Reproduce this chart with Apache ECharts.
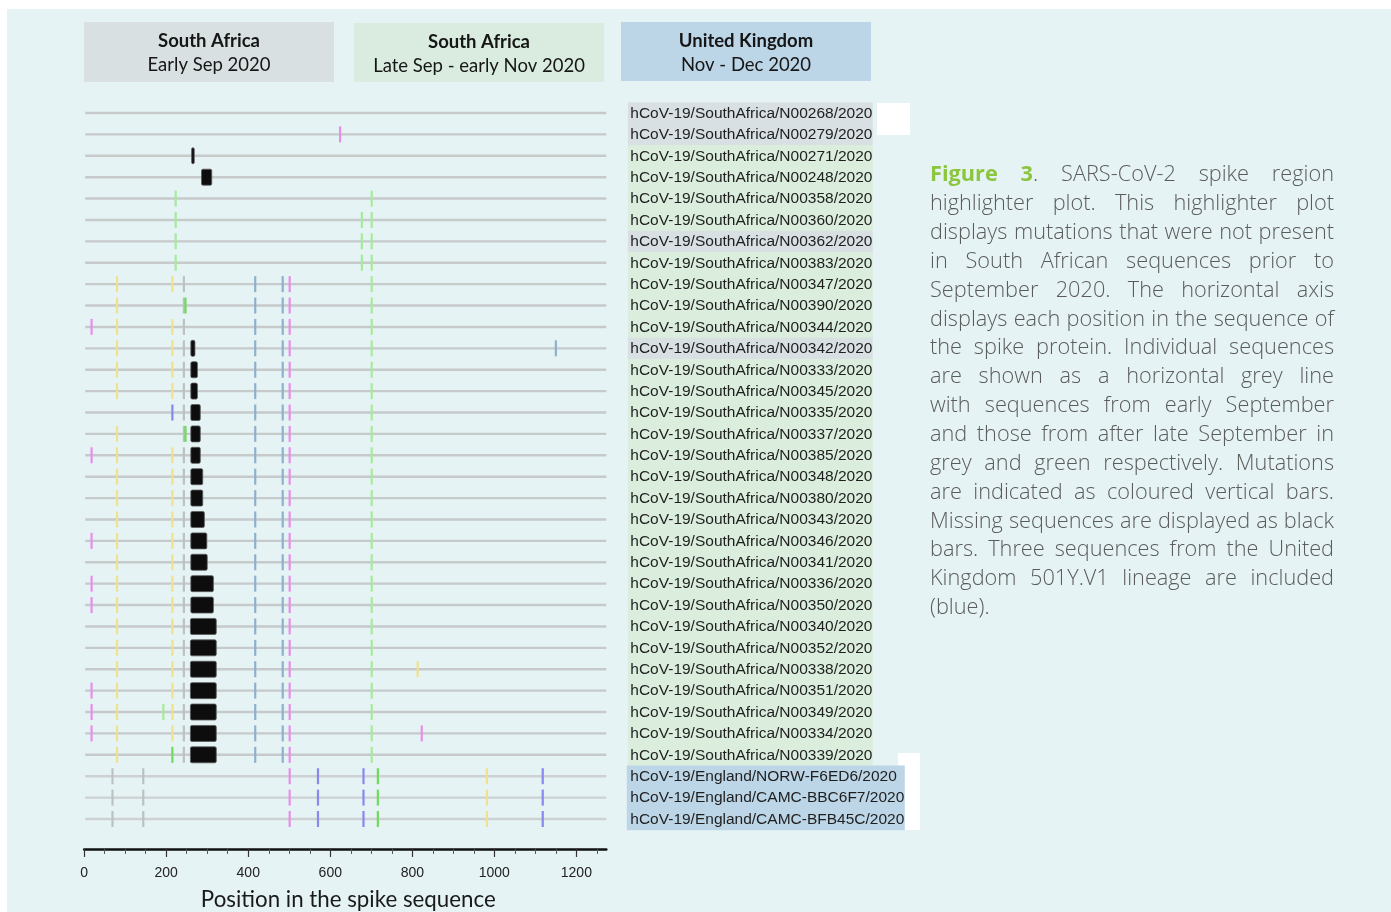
<!DOCTYPE html>
<html><head><meta charset="utf-8">
<script src="https://cdn.jsdelivr.net/npm/echarts@6/dist/echarts.min.js"></script>
<style>html,body{margin:0;padding:0;background:#fff}#c{width:1391px;height:912px}</style>
</head><body><div id="c"></div>
<script>
// ---------------- DATA ----------------
const seqLabels = [
  'hCoV-19/SouthAfrica/N00268/2020','hCoV-19/SouthAfrica/N00279/2020','hCoV-19/SouthAfrica/N00271/2020',
  'hCoV-19/SouthAfrica/N00248/2020','hCoV-19/SouthAfrica/N00358/2020','hCoV-19/SouthAfrica/N00360/2020',
  'hCoV-19/SouthAfrica/N00362/2020','hCoV-19/SouthAfrica/N00383/2020','hCoV-19/SouthAfrica/N00347/2020',
  'hCoV-19/SouthAfrica/N00390/2020','hCoV-19/SouthAfrica/N00344/2020','hCoV-19/SouthAfrica/N00342/2020',
  'hCoV-19/SouthAfrica/N00333/2020','hCoV-19/SouthAfrica/N00345/2020','hCoV-19/SouthAfrica/N00335/2020',
  'hCoV-19/SouthAfrica/N00337/2020','hCoV-19/SouthAfrica/N00385/2020','hCoV-19/SouthAfrica/N00348/2020',
  'hCoV-19/SouthAfrica/N00380/2020','hCoV-19/SouthAfrica/N00343/2020','hCoV-19/SouthAfrica/N00346/2020',
  'hCoV-19/SouthAfrica/N00341/2020','hCoV-19/SouthAfrica/N00336/2020','hCoV-19/SouthAfrica/N00350/2020',
  'hCoV-19/SouthAfrica/N00340/2020','hCoV-19/SouthAfrica/N00352/2020','hCoV-19/SouthAfrica/N00338/2020',
  'hCoV-19/SouthAfrica/N00351/2020','hCoV-19/SouthAfrica/N00349/2020','hCoV-19/SouthAfrica/N00334/2020',
  'hCoV-19/SouthAfrica/N00339/2020','hCoV-19/England/NORW-F6ED6/2020','hCoV-19/England/CAMC-BBC6F7/2020',
  'hCoV-19/England/CAMC-BFB45C/2020'
];
const seqGroups = ['early','early','late','late','late','late','early','late','late','late','late','early',
  'late','late','late','late','late','late','late','late','late','late','late','late','late','late','late',
  'late','late','late','late','uk','uk','uk'];

const headerTitles = ['South Africa','South Africa','United Kingdom'];
const headerSubs = ['Early Sep 2020','Late Sep - early Nov 2020','Nov - Dec 2020'];

const spikeLength = 1273;
const majorTicks = [0,200,400,600,800,1000,1200];
const minorTicks = [50,100,150,250,300,350,450,500,550,650,700,750,850,900,950,1050,1100,1150,1250];

// mutations: [position, [row indices]]
const mutPink = [
  [624,[1]],
  [18,[10,16,20,22,23,27,28,29]],
  [501,[8,9,10,11,12,13,14,15,16,17,18,19,20,21,22,23,24,25,26,27,28,29,30,31,32,33]],
  [823,[29]]
];
const mutYellow = [
  [80,[8,9,10,11,12,13,15,16,17,18,19,20,21,22,23,24,25,26,27,28,29,30]],
  [215,[8,10,11,12,13,16,17,18,19,20,21,22,23,24,25,26,27,28,29]],
  [813,[26]],
  [982,[31,32,33]]
];
const mutGrey = [
  [243,[8,9,10,11,12,13,14,15,16,17,18,19,20,21,22,23,24,25,26,27,28,29,30]],
  [69,[31,32,33]],
  [144,[31,32,33]]
];
const mutSteel = [
  [417,[8,9,10,11,12,13,14,15,16,17,18,19,20,21,22,23,24,25,26,27,28,29,30]],
  [484,[8,9,10,11,12,13,14,15,16,17,18,19,20,21,22,23,24,25,26,27,28,29,30]],
  [1150,[11]]
];
const mutLightGreen = [
  [223,[4,5,6,7]],
  [677,[5,6,7]],
  [701,[4,5,6,7,8,9,10,11,12,13,14,15,16,17,18,19,20,21,22,23,24,25,26,27,28,29,30]],
  [193,[28]]
];
const mutBrightGreen = [
  [247,[9,15]],
  [215,[30]],
  [716,[31,32,33]]
];
const mutViolet = [
  [215,[14]],
  [570,[31,32,33]],
  [681,[31,32,33]],
  [1118,[31,32,33]]
];
// missing (N) stretches: [row, start, end]
const missing = [
  [2,262,268],[3,286,311],[11,260,270],[12,260,276],[13,260,276],[14,260,283],[15,260,283],
  [16,260,283],[17,260,289],[18,260,289],[19,260,293],[20,260,299],[21,260,300],[22,260,315],
  [23,260,315],[24,259,322],[25,259,322],[26,259,322],[27,259,322],[28,259,322],[29,259,322],[30,259,322]
];

const captionLines = [
  'Figure 3. SARS-CoV-2 spike region',
  'highlighter plot. This highlighter plot',
  'displays mutations that were not present',
  'in South African sequences prior to',
  'September 2020. The horizontal axis',
  'displays each position in the sequence of',
  'the spike protein. Individual sequences',
  'are shown as a horizontal grey line',
  'with sequences from early September',
  'and those from after late September in',
  'grey and green respectively. Mutations',
  'are indicated as coloured vertical bars.',
  'Missing sequences are displayed as black',
  'bars. Three sequences from the United',
  'Kingdom 501Y.V1 lineage are included',
  '(blue).'
];

// ---------------- STYLE ----------------
const colors = {
  pink:'#e78fe8', yellow:'#f1e08c', grey:'#bcc1c3', steel:'#8db0cc',
  lightGreen:'#a6eb9a', brightGreen:'#6fda5c', violet:'#8789ee'
};
const groupBg = { early:'#d8e0e3', late:'#dbeedd', uk:'#bdd6e7' };

function flat(list){ const out=[]; list.forEach(([p,rows])=>rows.forEach(r=>out.push([p,r]))); return out; }

const chart = echarts.init(document.getElementById('c'), null, {renderer:'canvas'});

function mutSeries(name, list, color){
  return { name, type:'scatter', data:flat(list), symbol:'rect', symbolSize:[2.2,16],
    itemStyle:{color, opacity:1}, silent:true, z:4, animation:false };
}

// caption layout
const cv = document.createElement('canvas').getContext('2d');
function tw(t,font){ cv.font=font; return cv.measureText(t).width; }
const capX = 930, capW = 404, capY0 = 175, capLH = 28.87;
const capFam = '"Open Sans", "Noto Sans", sans-serif';
function fNorm(fs){ return '300 '+fs+'px '+capFam; }
function fBold(fs){ return '700 '+fs+'px '+capFam; }
function tokens(line, li){
  return line.split(' ').map(w=>{
    if(li===0 && w==='Figure') return [[w,'g']];
    if(li===0 && w==='3.') return [['3','g'],['.','n']];
    return [[w,'n']];
  });
}
function tokW(tok, fs){ return tok.reduce((s,[t,k])=>s+tw(t,k==='g'?fBold(fs):fNorm(fs)),0); }
let maxNat = 0;
captionLines.forEach((ln,li)=>{
  if(li===captionLines.length-1) return;
  const tk = tokens(ln,li);
  const nat = tk.reduce((s,t)=>s+tokW(t,20),0) + tw(' ',fNorm(20))*(tk.length-1);
  maxNat = Math.max(maxNat, nat);
});
const capFs = Math.min(22, 20*capW/maxNat*0.995);
const capGraphics = [];
captionLines.forEach((ln,li)=>{
  const tk = tokens(ln,li);
  const widths = tk.map(t=>tokW(t,capFs));
  const sum = widths.reduce((a,b)=>a+b,0);
  const last = li===captionLines.length-1;
  const gap = last ? tw(' ',fNorm(capFs)) : (capW-sum)/(tk.length-1);
  let x = capX;
  const y = capY0 + li*capLH;
  tk.forEach((t,ti)=>{
    let xx = x;
    t.forEach(([s,k])=>{
      const f = k==='g'?fBold(capFs):fNorm(capFs);
      capGraphics.push({type:'text', x:xx, y:y, silent:true,
        style:{text:s, font:f, fill:k==='g'?'#8cc63f':'#5b5b5b', verticalAlign:'middle', align:'left'}});
      xx += tw(s,f);
    });
    x += widths[ti] + gap;
  });
});

// header boxes
const headerBoxes = [[84,22,250,60,'#d8e0e2'],[354,23,250,59,'#d9ecdf'],[621,22,250,59,'#bdd6e7']];
const headerGraphics = [];
headerBoxes.forEach((b,i)=>{
  headerGraphics.push({type:'rect', shape:{x:b[0],y:b[1],width:b[2],height:b[3]}, style:{fill:b[4]}, silent:true, z:1});
  headerGraphics.push({type:'text', x:b[0]+b[2]/2, y:b[1]+19, z:2, silent:true,
    style:{text:headerTitles[i], font:'bold 18.5px Lato, "Open Sans", sans-serif', fill:'#161616', align:'center', verticalAlign:'middle'}});
  headerGraphics.push({type:'text', x:b[0]+b[2]/2, y:b[1]+43.5, z:2, silent:true,
    style:{text:headerSubs[i], font:'18.5px Lato, "Open Sans", sans-serif', fill:'#161616', align:'center', verticalAlign:'middle'}});
});

const option = {
  backgroundColor:'#ffffff',
  animation:false,
  grid:{ left:84.2, top:91.6, width:522.1, height:757.35, containLabel:false, outerBoundsMode:'none' },
  xAxis:[{
    type:'value', min:0, max:spikeLength, position:'bottom', offset:0,
    axisLine:{show:true, onZero:false, lineStyle:{color:'#111', width:2.6}},
    axisTick:{show:true, customValues:majorTicks, length:8, lineStyle:{color:'#333', width:1.2}},
    axisLabel:{show:true, customValues:majorTicks, color:'#222', fontSize:14, margin:17,
      fontFamily:'"Liberation Sans", Arial, sans-serif', formatter:(v)=>String(v)},
    splitLine:{show:false},
    name:'Position in the spike sequence', nameLocation:'middle', nameGap:40,
    nameTextStyle:{fontSize:22.3, color:'#1a1a1a', fontFamily:'Lato, "Open Sans", sans-serif', padding:[0,0,0,6]}
  },{
    type:'value', min:0, max:spikeLength, position:'bottom', offset:0,
    axisLine:{show:false, onZero:false},
    axisTick:{show:true, customValues:minorTicks, length:5, lineStyle:{color:'#555', width:1}},
    axisLabel:{show:false}, splitLine:{show:false}
  }],
  yAxis:{ type:'value', min:-1, max:34.4, inverse:true, show:false },
  graphic:[
    {type:'rect', shape:{x:7,y:9,width:1384,height:903}, style:{fill:'#e6f3f5'}, silent:true, z:-10},
    {type:'rect', shape:{x:877,y:103,width:33,height:32}, style:{fill:'#ffffff'}, silent:true, z:0},
    {type:'rect', shape:{x:898,y:753,width:22,height:77}, style:{fill:'#ffffff'}, silent:true, z:0},
    ...headerGraphics,
    ...capGraphics
  ],
  series:[
    { name:'rows', type:'custom', silent:true, z:2, animation:false,
      data: seqLabels.map((s,i)=>[0,i]), encode:{x:0,y:1},
      renderItem(params, api){
        const i = api.value(1);
        const p0 = api.coord([0,i]); const p1 = api.coord([spikeLength,i]);
        return {type:'line', shape:{x1:p0[0]+1,y1:p0[1],x2:p1[0],y2:p1[1]},
          style:{stroke: seqGroups[i]==='uk' ? '#cdd1d2' : '#c6cacb', lineWidth:2.4}};
      }
    },
    { name:'labels', type:'custom', silent:true, z:3, animation:false, clip:false,
      data: seqLabels.map((s,i)=>[spikeLength,i]), encode:{x:0,y:1},
      renderItem(params, api){
        const i = api.value(1);
        const p = api.coord([spikeLength,i]);
        const h = api.size([0,1])[1];
        const g = seqGroups[i];
        const x0 = p[0] + (g==='uk'?20.5:21.5);
        const w = g==='uk' ? 278 : 245;
        return {type:'group', children:[
          {type:'rect', shape:{x:x0, y:p[1]-h/2, width:w, height:h+0.6}, style:{fill:groupBg[g]}},
          {type:'text', x:p[0]+24, y:p[1]+0.5, style:{text:seqLabels[i], font:'15.5px "Liberation Sans", Arial, sans-serif',
            fill:'#1e1e1e', verticalAlign:'middle', align:'left'}}
        ]};
      }
    },
    { name:'missing', type:'custom', silent:true, z:5, animation:false,
      data: missing.map(m=>[m[1],m[0],m[2]]), encode:{x:[0,2],y:1},
      renderItem(params, api){
        const a = api.coord([api.value(0), api.value(1)]);
        const b = api.coord([api.value(2), api.value(1)]);
        const w = Math.max(2.6, b[0]-a[0]);
        return {type:'rect', shape:{x:a[0], y:a[1]-8, width:w, height:16, r:1.5},
          style:{fill:'#0d0d0d', stroke:'#5a5a5a', lineWidth:0.8}};
      }
    },
    mutSeries('grey', mutGrey, colors.grey),
    mutSeries('yellow', mutYellow, colors.yellow),
    mutSeries('lightGreen', mutLightGreen, colors.lightGreen),
    mutSeries('steel', mutSteel, colors.steel),
    mutSeries('pink', mutPink, colors.pink),
    mutSeries('brightGreen', mutBrightGreen, colors.brightGreen),
    mutSeries('violet', mutViolet, colors.violet)
  ]
};
chart.setOption(option);
</script>
</body></html>
